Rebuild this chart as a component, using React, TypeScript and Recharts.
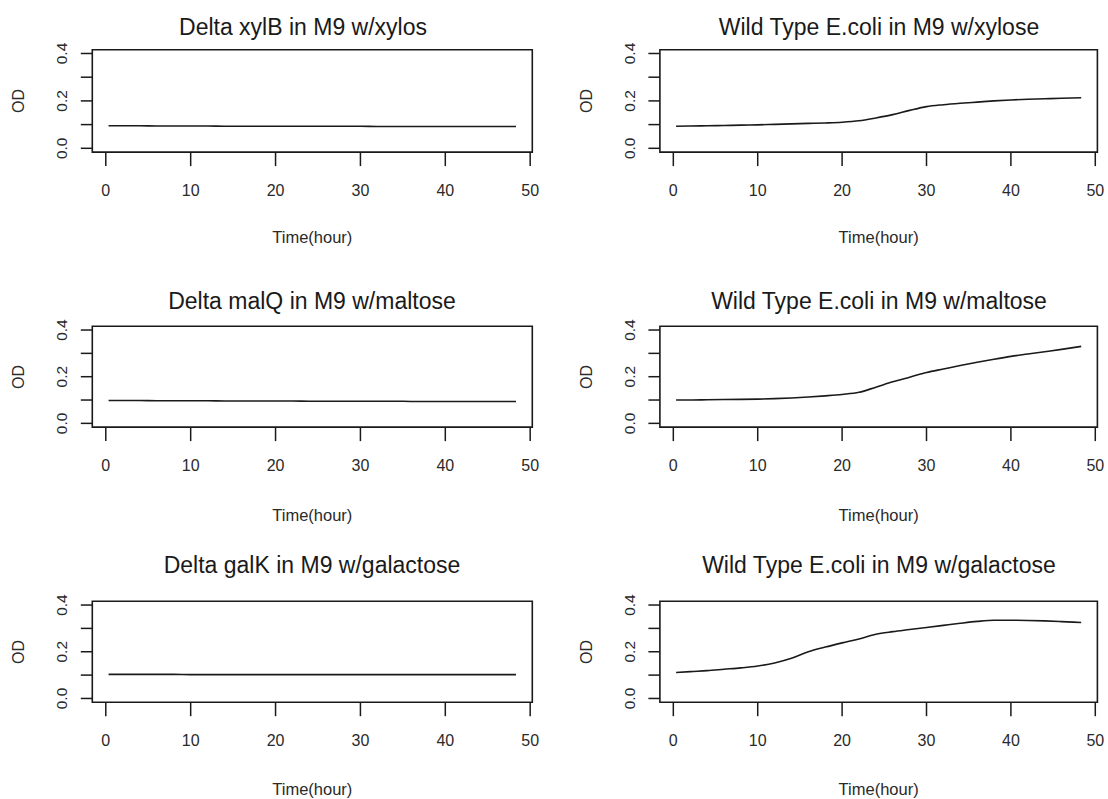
import React from 'react';
import { LineChart, Line, XAxis, YAxis, ReferenceArea } from 'recharts';

// sampling times (hours)
const TIME = [0.33, 2, 4, 6, 8, 10, 12, 14, 16, 18, 20, 22, 24, 26, 28, 30, 32, 34, 36, 38, 40, 42, 44, 46, 48.33];

// OD readings per strain / medium
const DELTA_XYLB = [0.095, 0.095, 0.095, 0.094, 0.094, 0.094, 0.094, 0.093, 0.093, 0.093, 0.093, 0.093, 0.093, 0.093, 0.093, 0.093, 0.092, 0.092, 0.092, 0.092, 0.092, 0.092, 0.092, 0.092, 0.092];
const WT_XYLOSE = [0.093, 0.094, 0.095, 0.096, 0.098, 0.099, 0.101, 0.103, 0.105, 0.107, 0.110, 0.116, 0.128, 0.142, 0.160, 0.176, 0.184, 0.190, 0.195, 0.200, 0.204, 0.207, 0.209, 0.211, 0.213];
const DELTA_MALQ = [0.098, 0.098, 0.098, 0.097, 0.097, 0.097, 0.097, 0.096, 0.096, 0.096, 0.096, 0.096, 0.095, 0.095, 0.095, 0.095, 0.095, 0.095, 0.094, 0.094, 0.094, 0.094, 0.094, 0.094, 0.094];
const WT_MALTOSE = [0.100, 0.100, 0.101, 0.102, 0.103, 0.104, 0.106, 0.109, 0.113, 0.118, 0.124, 0.133, 0.155, 0.178, 0.198, 0.218, 0.233, 0.248, 0.262, 0.275, 0.287, 0.297, 0.307, 0.317, 0.330];
const DELTA_GALK = [0.103, 0.103, 0.103, 0.103, 0.103, 0.102, 0.102, 0.102, 0.102, 0.102, 0.102, 0.102, 0.102, 0.102, 0.102, 0.102, 0.102, 0.102, 0.102, 0.102, 0.102, 0.102, 0.102, 0.102, 0.102];
const WT_GALACTOSE = [0.111, 0.115, 0.119, 0.125, 0.131, 0.139, 0.152, 0.172, 0.200, 0.220, 0.238, 0.255, 0.275, 0.286, 0.295, 0.304, 0.313, 0.322, 0.330, 0.335, 0.335, 0.334, 0.332, 0.329, 0.325];

const TITLES = [
  'Delta xylB in M9 w/xylos',
  'Wild Type E.coli in M9 w/xylose',
  'Delta malQ in M9 w/maltose',
  'Wild Type E.coli in M9 w/maltose',
  'Delta galK in M9 w/galactose',
  'Wild Type E.coli in M9 w/galactose',
];
const SERIES = [DELTA_XYLB, WT_XYLOSE, DELTA_MALQ, WT_MALTOSE, DELTA_GALK, WT_GALACTOSE];

const X_TICKS = [0, 10, 20, 30, 40, 50];
const Y_TICKS = [0, 0.1, 0.2, 0.3, 0.4];
const Y_LABELED = [0, 0.2, 0.4];
const X_LABEL = 'Time(hour)';
const Y_LABEL = 'OD';

// R-style 4% padding around the data / ylim
const X_DOMAIN = [-1.59, 50.25];
const Y_DOMAIN = [-0.016, 0.416];

// layout (page pixels)
const COLS = [
  { x0: 0, boxLeft: 92.3, boxRight: 532.3, titleX: [303, 312, 312] },
  { x0: 554, boxLeft: 659.9, boxRight: 1097.4, titleX: [879, 879, 879] },
];
const ROWS = [
  { y0: 0, h: 266, boxTop: 49.7, boxBottom: 152.1, titleY: 27, xlabY: 237 },
  { y0: 266, h: 266, boxTop: 326.3, boxBottom: 427.1, titleY: 301, xlabY: 515 },
  { y0: 532, h: 267, boxTop: 601.3, boxBottom: 702.2, titleY: 565, xlabY: 789 },
];
const X_AXIS_H = 60;
const FONT = '"Liberation Sans", Arial, Helvetica, sans-serif';
const INK = '#1a1a1a';

const XTick = (props: any) => {
  const { x, y, payload } = props;
  return (
    <text x={x} y={y} dy="0.35em" textAnchor="middle" fontSize={16} fill="#2a2a2a" fontFamily={FONT}>
      {payload.value}
    </text>
  );
};

const YTick = (props: any) => {
  const { x, y, payload } = props;
  if (!Y_LABELED.some((v) => Math.abs(v - payload.value) < 1e-9)) return <g />;
  return (
    <text
      x={x}
      y={y}
      dy="0.35em"
      textAnchor="middle"
      fontSize={15.5}
      fill="#2a2a2a"
      fontFamily={FONT}
      transform={`rotate(-90, ${x}, ${y})`}
    >
      {payload.value.toFixed(1)}
    </text>
  );
};

const Panel = ({ idx }: { idx: number }) => {
  const col = COLS[idx % 2];
  const row = ROWS[Math.floor(idx / 2)];
  const values = SERIES[idx];
  const data = TIME.map((t, i) => ({ time: t, od: values[i] }));

  const yAxisW = col.boxLeft - col.x0;
  const width = 554;
  const margin = {
    top: row.boxTop - row.y0,
    right: col.x0 + width - col.boxRight,
    bottom: row.y0 + row.h - row.boxBottom - X_AXIS_H,
    left: 0,
  };
  const midY = (row.boxTop + row.boxBottom) / 2;
  const midX = (col.boxLeft + col.boxRight) / 2;

  return (
    <>
      <div style={{ position: 'absolute', left: col.x0, top: row.y0 }}>
        <LineChart width={width} height={row.h} data={data} margin={margin}>
          <XAxis
            type="number"
            dataKey="time"
            domain={X_DOMAIN}
            ticks={X_TICKS}
            interval={0}
            allowDataOverflow
            axisLine={false}
            tickLine={{ stroke: INK, strokeWidth: 1.5 }}
            tickSize={14}
            tickMargin={24}
            height={X_AXIS_H}
            tick={<XTick />}
          />
          <YAxis
            type="number"
            domain={Y_DOMAIN}
            ticks={Y_TICKS}
            interval={0}
            allowDataOverflow
            axisLine={false}
            tickLine={{ stroke: INK, strokeWidth: 1.5 }}
            tickSize={11.5}
            tickMargin={19}
            width={yAxisW}
            tick={<YTick />}
          />
          <ReferenceArea
            x1={X_DOMAIN[0]}
            x2={X_DOMAIN[1]}
            y1={Y_DOMAIN[0]}
            y2={Y_DOMAIN[1]}
            fill="none"
            fillOpacity={0}
            stroke={INK}
            strokeWidth={1.6}
            ifOverflow="visible"
          />
          <Line
            type="monotone"
            dataKey="od"
            stroke={INK}
            strokeWidth={1.6}
            dot={false}
            isAnimationActive={false}
          />
        </LineChart>
      </div>
      <div
        style={{
          position: 'absolute',
          left: col.titleX[Math.floor(idx / 2)],
          top: row.titleY,
          transform: 'translate(-50%, -50%)',
          fontSize: 23,
          lineHeight: 1,
          whiteSpace: 'nowrap',
          color: INK,
          fontFamily: FONT,
        }}
      >
        {TITLES[idx]}
      </div>
      <div
        style={{
          position: 'absolute',
          left: midX,
          top: row.xlabY,
          transform: 'translate(-50%, -50%)',
          fontSize: 16.5,
          lineHeight: 1,
          whiteSpace: 'nowrap',
          color: '#2a2a2a',
          fontFamily: FONT,
        }}
      >
        {X_LABEL}
      </div>
      <div
        style={{
          position: 'absolute',
          left: col.boxLeft - 73,
          top: midY,
          transform: 'translate(-50%, -50%) rotate(-90deg)',
          fontSize: 16,
          lineHeight: 1,
          whiteSpace: 'nowrap',
          color: '#2a2a2a',
          fontFamily: FONT,
        }}
      >
        {Y_LABEL}
      </div>
    </>
  );
};

export default function App() {
  return (
    <div
      style={{
        position: 'absolute',
        left: 0,
        top: 0,
        width: 1108,
        height: 799,
        background: '#fff',
        overflow: 'hidden',
      }}
    >
      {TITLES.map((_, i) => (
        <Panel key={i} idx={i} />
      ))}
    </div>
  );
}
